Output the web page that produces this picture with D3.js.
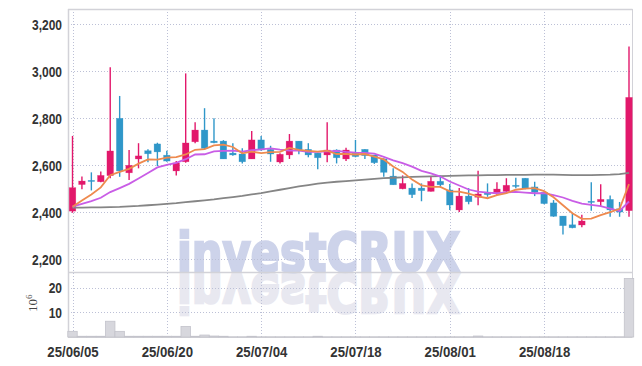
<!DOCTYPE html>
<html>
<head>
<meta charset="utf-8">
<script src="https://cdn.jsdelivr.net/npm/d3@7/dist/d3.min.js"></script>
<style>
  body { margin: 0; background: #fff; }
  svg { display: block; }
  .lbl { font-family: "Liberation Sans", Arial, sans-serif; font-weight: bold; font-size: 15px; fill: #333; }
</style>
</head>
<body>
<div id="chart"></div>
<script>
// trading days (yy/mm/dd)
const dates = [
  '25/06/05','25/06/09','25/06/10','25/06/11','25/06/12','25/06/13','25/06/16','25/06/17','25/06/18','25/06/19',
  '25/06/20','25/06/23','25/06/24','25/06/25','25/06/26','25/06/27','25/06/30','25/07/01','25/07/02','25/07/03',
  '25/07/04','25/07/07','25/07/08','25/07/09','25/07/10','25/07/11','25/07/14','25/07/15','25/07/16','25/07/17',
  '25/07/18','25/07/21','25/07/22','25/07/23','25/07/24','25/07/25','25/07/28','25/07/29','25/07/30','25/07/31',
  '25/08/01','25/08/04','25/08/05','25/08/06','25/08/07','25/08/08','25/08/11','25/08/12','25/08/13','25/08/14',
  '25/08/18','25/08/19','25/08/20','25/08/21','25/08/22','25/08/25','25/08/26','25/08/27','25/08/28','25/08/29'
];

const opens = [2405,2518,2536,2530,2556,2800,2568,2627,2662,2691,2643,2576,2615,2700,2750,2703,2703,2652,2648,2627,
  2708,2668,2614,2644,2703,2668,2652,2644,2665,2627,2651,2668,2644,2627,2554,2500,2503,2503,2489,2532,
  2495,2410,2469,2464,2486,2483,2489,2515,2545,2508,2485,2440,2384,2347,2346,2447,2445,2455,2415,2407];
const highs = [2725,2552,2570,2574,3017,2895,2665,2694,2668,2696,2662,2618,2991,2783,2843,2800,2707,2694,2672,2746,
  2725,2683,2651,2733,2703,2694,2652,2783,2668,2675,2708,2668,2644,2630,2587,2557,2523,2523,2551,2557,
  2520,2503,2503,2577,2523,2528,2545,2547,2545,2530,2485,2452,2384,2396,2390,2528,2519,2472,2444,3105];
const lows = [2398,2498,2493,2528,2545,2551,2537,2587,2613,2597,2615,2557,2611,2694,2668,2694,2627,2641,2608,2627,
  2662,2615,2608,2627,2647,2634,2583,2613,2608,2618,2634,2627,2606,2551,2517,2498,2461,2447,2489,2506,
  2410,2401,2434,2430,2466,2474,2483,2502,2498,2469,2434,2381,2306,2332,2336,2407,2424,2381,2381,2381];
const closes = [2505,2533,2533,2557,2661,2576,2600,2640,2649,2657,2618,2610,2695,2750,2672,2696,2627,2644,2615,2708,
  2665,2648,2647,2703,2665,2644,2632,2665,2632,2665,2637,2641,2611,2570,2517,2523,2475,2492,2532,2517,
  2431,2469,2445,2478,2475,2499,2515,2512,2502,2485,2437,2383,2343,2334,2363,2444,2455,2410,2401,2889];

// moving average lines
const ma5 = [2424,2450,2476,2506,2558,2572,2585,2607,2625,2624,2633,2635,2646,2666,2669,2685,2688,2678,2651,2658,
  2652,2656,2657,2674,2666,2661,2658,2662,2648,2648,2646,2648,2637,2625,2595,2572,2539,2515,2508,2508,
  2489,2488,2479,2468,2460,2473,2482,2496,2501,2503,2490,2464,2430,2396,2372,2373,2388,2401,2415,2520];
const ma10 = [2424,2436,2448,2462,2486,2503,2521,2544,2567,2591,2602,2610,2626,2646,2647,2659,2661,2662,2658,2664,
  2668,2672,2667,2663,2662,2657,2657,2659,2661,2657,2654,2653,2650,2636,2621,2609,2594,2576,2566,2552,
  2531,2514,2497,2488,2484,2481,2485,2487,2484,2481,2482,2473,2463,2449,2437,2432,2426,2416,2406,2446];
const ma60 = [2420,2420,2421,2421,2422,2423,2425,2427,2430,2433,2436,2439,2443,2447,2451,2455,2460,2465,2470,2476,
  2482,2489,2496,2503,2510,2516,2522,2526,2530,2533,2536,2539,2542,2545,2547,2549,2551,2552,2553,2554,
  2555,2556,2557,2557,2558,2558,2559,2559,2559,2560,2560,2560,2559,2558,2558,2558,2559,2560,2562,2568];

// volume, millions of shares
const volume = [2.3,0.3,0.3,0.3,6.4,2.3,0.3,0.3,0.3,0.3,0.3,0.3,4.3,0.3,0.8,0.4,0.3,0.1,0.1,0.3,
  0.1,0.1,0.1,0.1,0.1,0.1,0.3,0.1,0.1,0.1,0.1,0.1,0.1,0.1,0.1,0.1,0.1,0.1,0.1,0.1,
  0.1,0.1,0.1,0.4,0.1,0.1,0.1,0.1,0.1,0.1,0.1,0.1,0.1,0.1,0.1,0.1,0.1,0.1,0.1,23.8];

const priceTicks = [2200, 2400, 2600, 2800, 3000, 3200];
const volumeTicks = [10, 20];
const dateTicks = ['25/06/05','25/06/20','25/07/04','25/07/18','25/08/01','25/08/18'];

const W = 642, H = 366;
const plotL = 68, plotR = 632.5, plotT = 9, priceB = 272, volB = 337;
const UP = '#e2186b', DOWN = '#2f97c9';

const svg = d3.select('#chart').append('svg')
  .attr('width', W).attr('height', H);

const x = d3.scalePoint().domain(dates).range([72.5, 629]);
const step = x.step();
const y = d3.scaleLinear().domain([2146, 3265]).range([priceB, plotT]);
const yv = d3.scaleLinear().domain([0, 26.4]).range([volB, priceB]);

// watermark + reflection
const wm = svg.append('g')
  .style('font-family', '"DejaVu Sans", sans-serif').style('font-weight', 'bold').style('font-size', '54px');
wm.append('text')
  .attr('x', 177).attr('y', -274)
  .attr('transform', 'scale(1,-1)')
  .attr('textLength', 283).attr('lengthAdjust', 'spacingAndGlyphs')
  .style('fill', '#e8e8f0').style('stroke', '#e8e8f0').style('stroke-width', 2.5)
  .text('investCRUX');
wm.append('text')
  .attr('x', 177).attr('y', 271)
  .attr('textLength', 283).attr('lengthAdjust', 'spacingAndGlyphs')
  .style('fill', '#cdd3ea').style('stroke', '#cdd3ea').style('stroke-width', 2.5)
  .text('investCRUX');

// dotted grid
const grid = svg.append('g')
  .attr('stroke', '#bcc0d6').attr('stroke-width', 1).attr('stroke-dasharray', '1,2');
grid.selectAll('.hp').data(priceTicks).join('line')
  .attr('x1', plotL).attr('x2', plotR)
  .attr('y1', d => Math.round(y(d)) + 0.5).attr('y2', d => Math.round(y(d)) + 0.5);
grid.selectAll('.hv').data(volumeTicks).join('line')
  .attr('x1', plotL).attr('x2', plotR)
  .attr('y1', d => Math.round(yv(d)) + 0.5).attr('y2', d => Math.round(yv(d)) + 0.5);
grid.selectAll('.vx').data(dateTicks).join('line')
  .attr('x1', d => Math.round(x(d)) + 0.5).attr('x2', d => Math.round(x(d)) + 0.5)
  .attr('y1', plotT).attr('y2', volB);

// frame
const frame = svg.append('g').attr('stroke', '#d2d2d8').attr('fill', 'none');
frame.append('line').attr('x1', plotL).attr('x2', plotR).attr('y1', plotT + 0.5).attr('y2', plotT + 0.5).attr('stroke-width', 1.5);
frame.append('line').attr('x1', plotL + 0.5).attr('x2', plotL + 0.5).attr('y1', plotT).attr('y2', volB).attr('stroke-width', 1.5);
frame.append('line').attr('x1', plotR).attr('x2', plotR).attr('y1', plotT).attr('y2', volB);
frame.append('line').attr('x1', plotL).attr('x2', plotR).attr('y1', priceB + 0.5).attr('y2', priceB + 0.5).attr('stroke-width', 1.5);
frame.append('line').attr('x1', plotL).attr('x2', plotR).attr('y1', volB + 0.5).attr('y2', volB + 0.5);

// volume bars
svg.append('g').selectAll('rect').data(dates).join('rect')
  .attr('x', d => x(d) - step / 2)
  .attr('width', step)
  .attr('y', (d, i) => yv(volume[i]))
  .attr('height', (d, i) => volB - yv(volume[i]))
  .attr('fill', '#d7d7dd').attr('stroke', '#c3c3cb').attr('stroke-width', 0.8);

// candles
const isUp = i => closes[i] >= opens[i];
const candles = svg.append('g').selectAll('g').data(dates).join('g')
  .attr('fill', (d, i) => isUp(i) ? UP : DOWN)
  .attr('stroke', (d, i) => isUp(i) ? UP : DOWN);
candles.append('line')
  .attr('x1', d => x(d)).attr('x2', d => x(d))
  .attr('y1', (d, i) => y(highs[i])).attr('y2', (d, i) => y(lows[i]))
  .attr('stroke-width', 1.4);
candles.append('rect')
  .attr('x', d => x(d) - 3.3).attr('width', 6.6)
  .attr('y', (d, i) => y(Math.max(opens[i], closes[i])))
  .attr('height', (d, i) => Math.max(1.2, Math.abs(y(opens[i]) - y(closes[i]))))
  .attr('stroke-width', 0.6).attr('stroke-opacity', 0.4);

// moving averages
const line = arr => d3.line().x(d => x(d)).y((d, i) => y(arr[i]))(dates);
svg.append('path').attr('d', line(ma60)).attr('fill', 'none').attr('stroke', '#858585').attr('stroke-width', 1.8);
svg.append('path').attr('d', line(ma10)).attr('fill', 'none').attr('stroke', '#c95de6').attr('stroke-width', 1.8);
svg.append('path').attr('d', line(ma5)).attr('fill', 'none').attr('stroke', '#ee8a4e').attr('stroke-width', 1.8);

// axes (narrow labels: squeeze horizontally)
const yAxis = svg.append('g').attr('transform', `translate(${plotL},0)`)
  .call(d3.axisLeft(y).tickValues(priceTicks).tickFormat(d3.format(',')).tickSize(0).tickPadding(6));
const vAxis = svg.append('g').attr('transform', `translate(${plotL},0)`)
  .call(d3.axisLeft(yv).tickValues(volumeTicks).tickSize(0).tickPadding(6));
const xAxis = svg.append('g').attr('transform', `translate(0,${volB})`)
  .call(d3.axisBottom(x).tickValues(dateTicks).tickSize(0).tickPadding(7));
[yAxis, vAxis, xAxis].forEach(g => {
  g.select('.domain').remove();
  g.selectAll('text').attr('class', 'lbl').attr('font-family', null).attr('font-size', null).attr('fill', null);
});
[yAxis, vAxis].forEach(g => g.selectAll('text').attr('x', -6 / 0.8).attr('transform', 'scale(0.8,1)'));
xAxis.selectAll('text').attr('dy', '0.9em').attr('transform', 'scale(0.88,1)');

// unit label 10^6
const unit = svg.append('text')
  .attr('transform', 'translate(37,312) rotate(-90)')
  .style('font-family', '"Liberation Serif", serif').style('font-size', '13px').style('fill', '#444');
unit.append('tspan').text('10');
unit.append('tspan').attr('dy', -5).style('font-size', '9px').text('6');
</script>
</body>
</html>
